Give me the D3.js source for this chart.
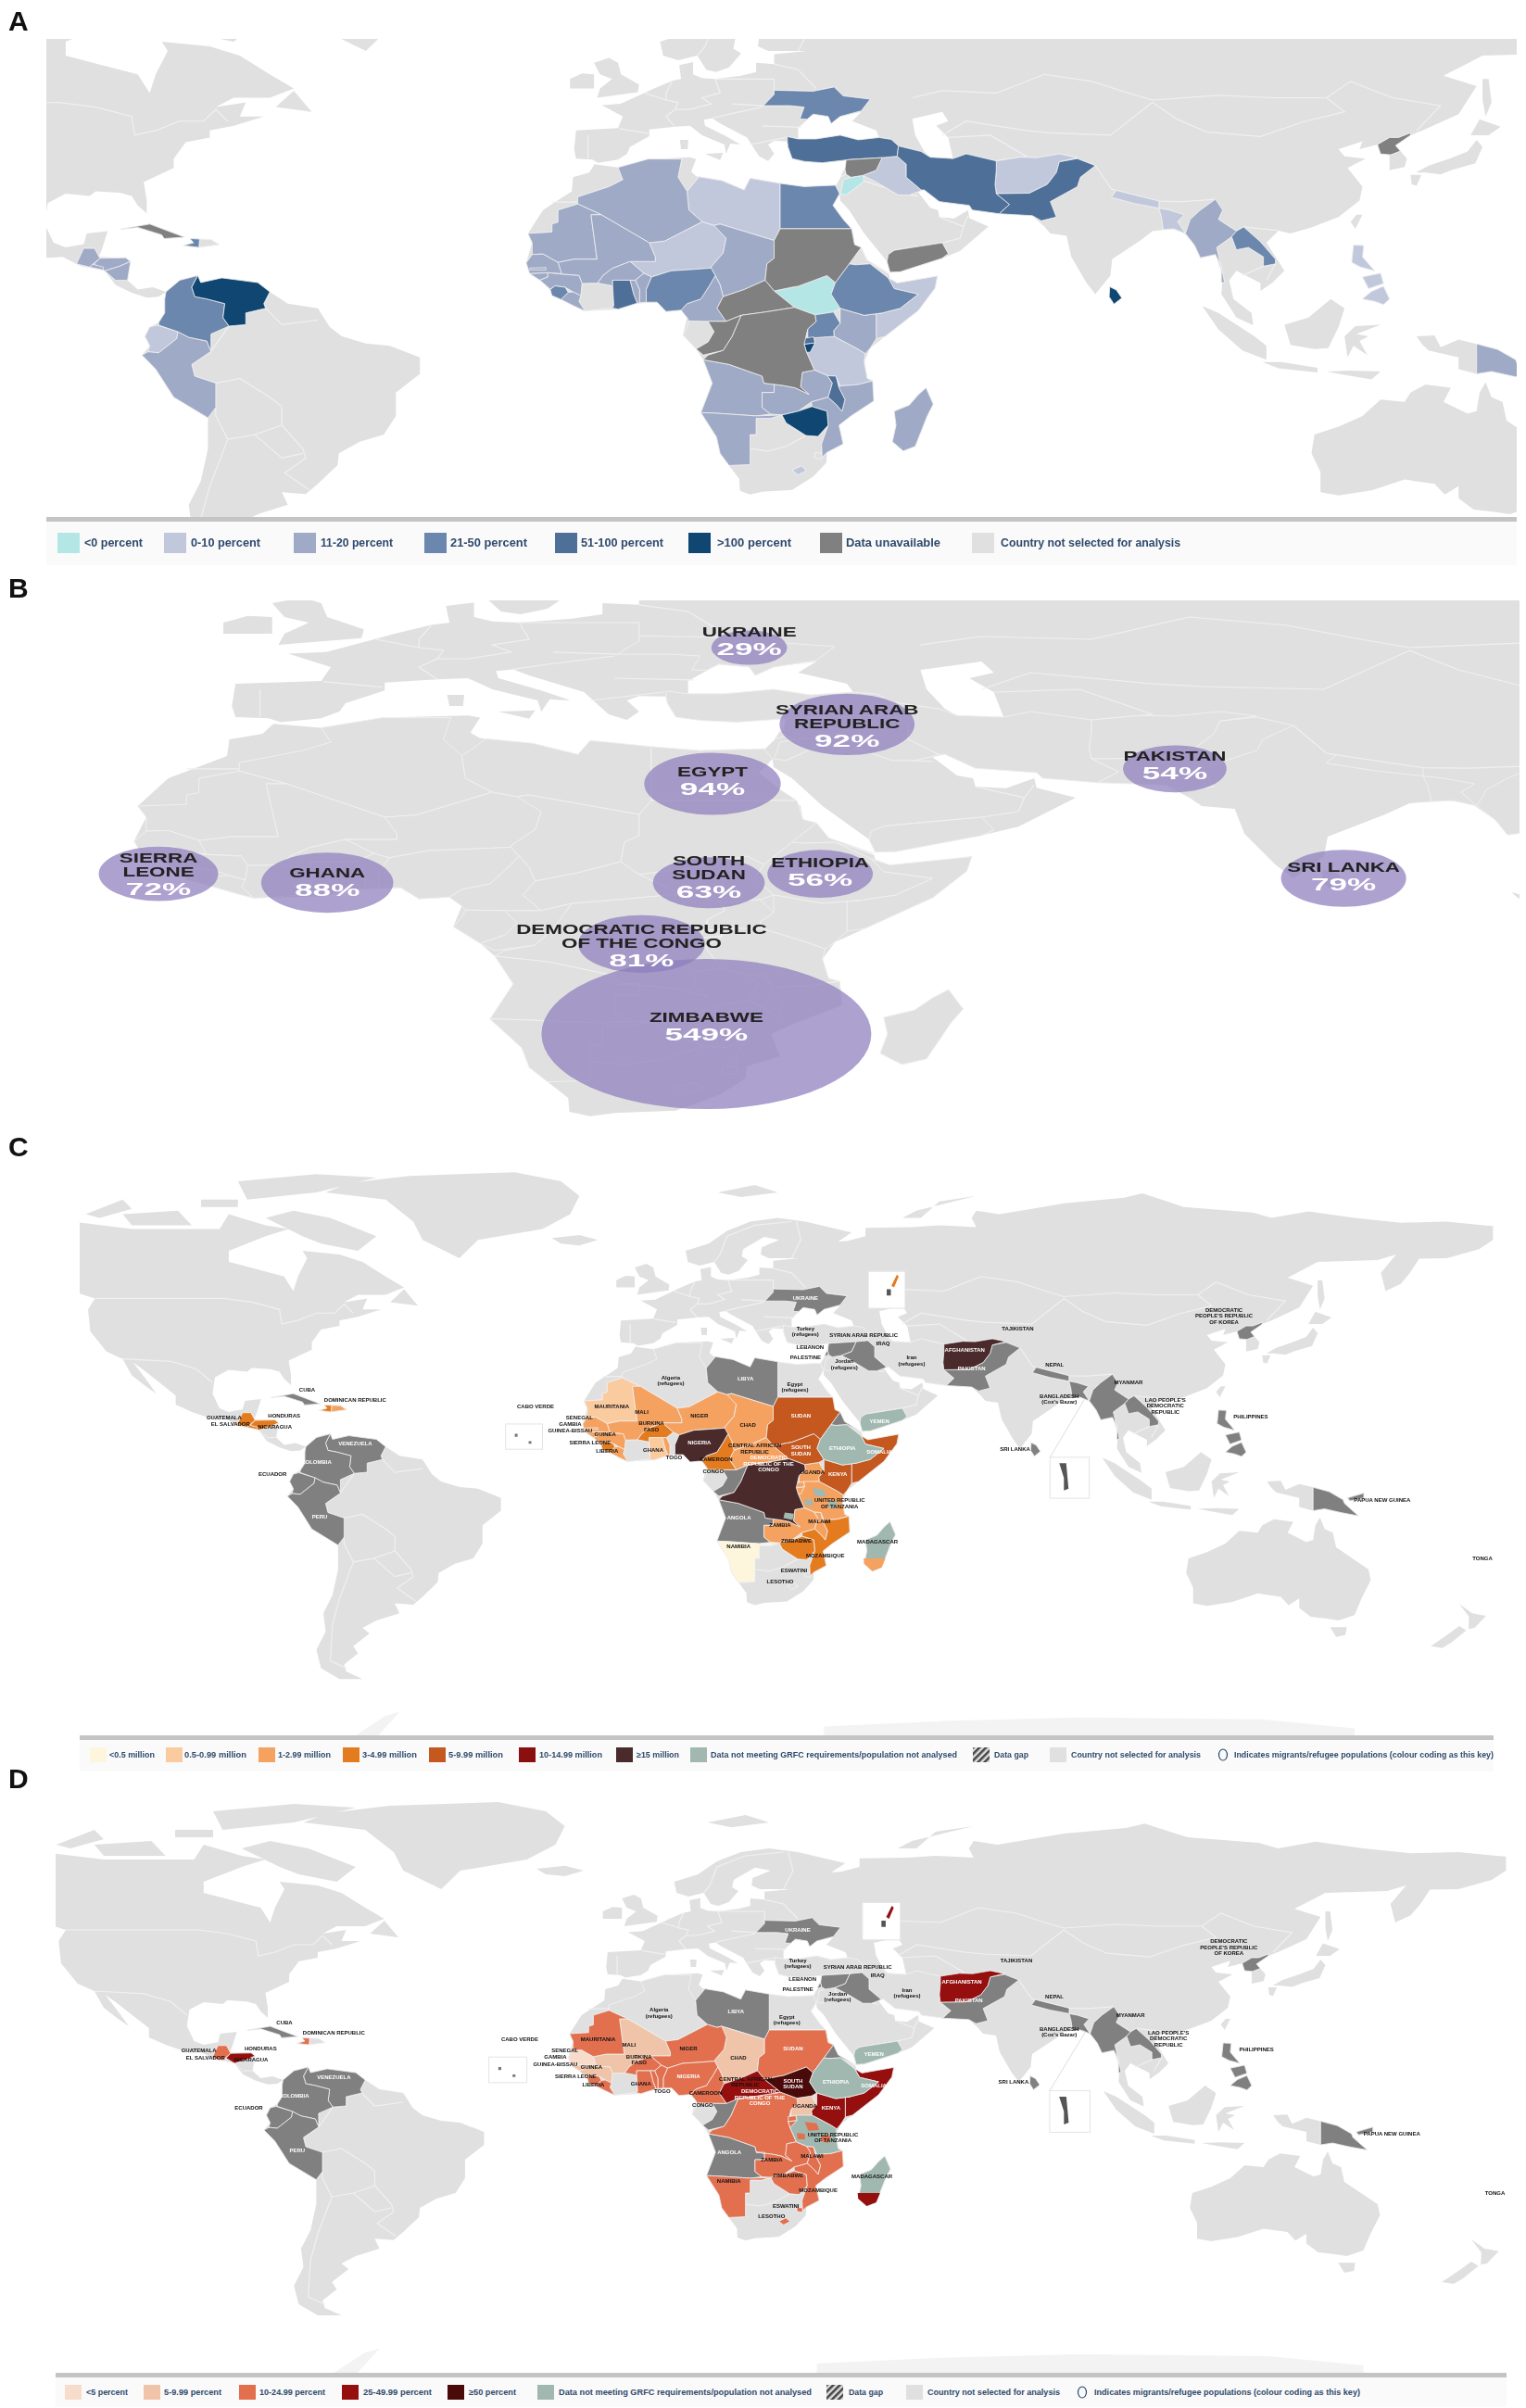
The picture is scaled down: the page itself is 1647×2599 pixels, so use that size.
<!DOCTYPE html>
<html>
<head>
<meta charset="utf-8">
<script src="https://cdn.jsdelivr.net/npm/d3@7"></script>
<style>
  html, body { margin: 0; padding: 0; background: #fff; }
  text { font-family: "Liberation Sans", Arial, sans-serif; }
</style>
</head>
<body>
<div id="chart"></div>
<script>
// ---- land outlines, [lon, lat] ----
const northAmerica = [[-168,66],[-162,70],[-156,71],[-141,70],[-128,70],[-115,68],[-108,68],[-96,68],[-94,72],[-86,69],[-81,68],[-86,66],[-94,62],[-94,59],[-88,57],[-82,55],[-80,51],[-79,55],[-77,60],[-78,62],[-70,61],[-65,59],[-60,55],[-56,52],[-60,50],[-66,50],[-69,48],[-64,49],[-65,46],[-61,46],[-66,44],[-70,43],[-70,41.5],[-74,40.5],[-76,37],[-76,35],[-81,32],[-80.5,28],[-80.5,25.3],[-82,27],[-83,29],[-85,29.7],[-89,30],[-90,29],[-94,29.5],[-97,27.5],[-97.5,23],[-96,19],[-94,18],[-91,18.7],[-90.5,21],[-87,21.5],[-88,17.5],[-88.5,16],[-84,15.8],[-83.3,14.8],[-83.7,11],[-82,9],[-79.5,9.5],[-77.3,8.5],[-78.5,7.5],[-80.5,7.3],[-83,8.3],[-85.7,10],[-87.5,13],[-91.5,14],[-94.5,16],[-97,15.8],[-102,18],[-105.5,20],[-105.5,22.5],[-109,26],[-112.5,29.5],[-114.7,31.5],[-112,27],[-109.7,23],[-112,25],[-115,28],[-117,32.5],[-120.5,34.5],[-124,40],[-124.5,46],[-123,49],[-128,51],[-132,55],[-136,58],[-142,60],[-148,60.5],[-152,59],[-158,56.5],[-164,54.8],[-158,58.5],[-165,61],[-165,64.5]];
const southAmerica = [[-77.3,8.5],[-75,11],[-72,12],[-71.5,10.5],[-68,11.5],[-62,10.5],[-60,8.5],[-57,6],[-52,5],[-50,1],[-48,-1],[-44,-2.5],[-40,-3],[-35,-5.5],[-35,-9],[-39,-13],[-39,-18],[-41,-22],[-45,-23.5],[-48.5,-26],[-48.7,-28.5],[-52,-32.5],[-54,-34.7],[-58,-34.3],[-57,-37],[-62,-39],[-65,-41],[-63.5,-42.5],[-67,-46],[-66,-48],[-69,-51],[-68.5,-53],[-65,-55],[-70,-55],[-74,-52],[-75,-47],[-73,-42],[-73.5,-37],[-71.5,-32],[-70.3,-25],[-70.3,-18.5],[-76,-14],[-79,-8],[-81.3,-5],[-80,-3],[-80.8,-1],[-80,1],[-78.5,2],[-77.5,4],[-77.5,7]];
const africa = [[-5.9,35.8],[-2,35.1],[3,36.9],[10,37.3],[11,36.9],[10.2,34.2],[11,33.2],[15.3,32.3],[19,30.3],[20,32.8],[25,31.7],[29,31],[32,31.2],[34.2,31.2],[32.6,29.7],[33.8,27],[35.5,24],[37.2,21],[37.4,18.6],[39.5,15.3],[43.2,12.2],[43.3,11.4],[44.5,10.4],[51.2,11.9],[50.8,9.3],[48,4.5],[42.5,-1],[40,-3.5],[39,-6.5],[39.5,-10],[40.6,-14.8],[36.8,-18],[34.8,-20],[35.5,-24],[32.8,-25.8],[32.7,-28],[30.5,-31],[27,-33.8],[22,-34.2],[20,-34.8],[18.3,-34],[18.2,-31.5],[16.5,-28.6],[15,-26],[14.4,-22.5],[11.8,-17.3],[13.7,-11],[12.2,-6],[11,-3.7],[8.8,-0.7],[9.5,3],[8.5,4.6],[6,4.3],[4.5,6.3],[1,6],[-2,4.8],[-7.5,4.4],[-9.5,5.6],[-13,8.5],[-15,11],[-17.3,14.7],[-16.3,19],[-17,21],[-14.5,26],[-11.5,28.5],[-9.7,30],[-9.5,33],[-6.8,34]];
const eurasia = [[-9,37],[-9.3,39],[-9,43],[-2,43.5],[-1.2,46],[-4.7,48.4],[-1.6,48.7],[1.5,50.5],[4,52],[7,53.6],[8.5,54],[8.2,57],[10.5,57.6],[10.5,55],[12,54.2],[14.2,54],[18.5,54.7],[21,55.5],[21,57.5],[24,57.2],[24,59.3],[29.5,60],[23,60],[21.3,61],[21.5,63],[25.3,65],[22,65.8],[17.5,62.5],[17.2,60.5],[18.5,59.5],[16.5,56.5],[14.3,55.5],[12.7,56],[11.2,59],[8,58],[5.5,59],[5,62],[10,64],[14,67.5],[19,70],[25,71],[31,70],[41,67],[38,64.5],[35,64.3],[40,64.7],[44,66],[44,68.3],[54,68.5],[60,69],[68,68.5],[67,71],[68,73],[73,72],[75,68],[73,72],[80,73.5],[87,75],[100,76.5],[104,77.7],[113,74],[128,72.5],[132,71],[140,72.8],[150,71],[160,69.7],[170,70],[178,69],[180,68.8],[180,65],[177,62.5],[170,60],[164,59.9],[162,56],[160,53],[156.7,51],[155.7,56],[159,61],[155,59.5],[142,59],[135.5,54.7],[141,52.5],[138,46.5],[132,43],[130,42],[127.5,39.8],[129.4,37],[129,35.2],[126.5,34.5],[126.5,37.5],[124.5,40],[121.5,39],[122,40.7],[118,39],[119,37.5],[122.5,37],[119.5,35],[122,31],[121.5,28],[118,24.5],[113.5,22.3],[110,21],[108,21.6],[106,19],[109,13],[107,10.5],[105,8.7],[105,10.4],[101,13],[99.8,11],[100.5,7],[103.5,4],[103.8,1.4],[101,3],[98.5,8],[98.7,12],[97.5,16.5],[95,15.8],[94,18.5],[92,21.5],[90,22],[87,21.5],[85,19.5],[80.3,15.5],[80,12],[77.5,8],[76,10.5],[73.5,16],[72.7,20.5],[70,21],[69,22.5],[67,24.8],[61.5,25.2],[57,26],[56.5,27],[51.5,27.8],[49,30.3],[48,29.8],[50,26.5],[51.3,26],[51.5,24.5],[54,24.2],[56.3,26],[56.5,24.3],[59.7,22.5],[55,17.3],[52,15.7],[45,12.8],[43.3,12.7],[42.8,15],[39,21],[36.5,26],[35,28],[34.9,29.5],[34.3,27.8],[33.2,28.5],[32.6,29.9],[32.3,31.2],[34.3,31.3],[35.8,34.5],[36,36.7],[32,36.1],[29,36.4],[27,37],[26.3,39.5],[26.2,40.7],[24,40.8],[23,40],[24,38],[23,36.5],[21.5,37.5],[19.5,41.5],[15,44.5],[13.7,45.6],[12.3,45.3],[12.5,44],[16,41.8],[18.4,40],[16.7,40.2],[16,38],[15.7,40],[12,42],[10,44],[7.5,43.8],[3.2,43.2],[3.2,41.8],[0,39.5],[-0.5,38],[-2,36.8],[-5.3,36.1],[-6.3,36.8]];
const australia = [[114,-22],[113.5,-26],[115,-30],[115,-34.3],[118,-35],[123.5,-33.9],[129,-31.6],[134,-32.5],[135.7,-34.8],[138,-33],[138,-35.6],[140.5,-38],[144,-38.5],[146.5,-39],[150,-37.5],[151.5,-33],[153.5,-28],[153,-25],[149.5,-22],[146,-19],[145.3,-15],[143.5,-14],[142.5,-10.8],[141.5,-13],[141,-17],[139.5,-17.5],[135.5,-15],[136.7,-12],[132.5,-11.3],[130,-13],[129,-15],[125,-14.5],[122,-18],[118,-20.3]];
const greenland = [[-73,78],[-60,76],[-54,70],[-52,65],[-44,60],[-40,65],[-26,68],[-20,72],[-18,77],[-22,81],[-32,83.5],[-55,82.5],[-68,80.5]];
const arcticIslands = [
  [[-80,73],[-72,71],[-62,66],[-66,62],[-74,64],[-78,66],[-86,71]],
  [[-117,72],[-105,73],[-102,69],[-115,69]],
  [[-90,76],[-75,78],[-62,82],[-75,83],[-92,81]],
  [[-125,72],[-117,76],[-115,73.5],[-122,71]],
  [[-100,76],[-92,76],[-92,74],[-100,74]],
  [[-24,65.5],[-18,66.3],[-14,65],[-18,63.5],[-22,64]],
  [[12,78],[20,80],[25,78],[17,76.7]],
  [[52,71],[55,73],[68,77],[60,75.5],[56,71]],
  [[-59,48],[-56,51.5],[-53,47]]
];
const otherIslands = [
  [[-5.5,50],[1.3,51.2],[1.5,52.8],[-1.5,55],[-2,57.5],[-3.5,58.5],[-6,57.5],[-5,55],[-3,54],[-5,52]],
  [[-10,52],[-6,52],[-6,55],[-8,55.2],[-10,54]],
  [[12.5,38],[15.5,38.2],[15,36.7]],
  [[8.3,41],[9.7,41],[9.6,39],[8.5,39]],
  [[130.9,34],[133,35.5],[136.5,37],[139.5,38.5],[141,41],[142,39.5],[140.8,36],[137,34.6],[135,33.6],[132.5,34]],
  [[130,33.5],[131.8,33.5],[131,31.2],[130.2,31.5]],
  [[140,42],[141.5,45.4],[145,43.8],[143,42]],
  [[142,54],[143,54],[143.5,49],[142.5,46],[142,49.5]],
  [[121,25],[122,25],[120.8,22],[120,23.5]],
  [[95.3,5.5],[98,4],[104,-1],[106,-3],[106,-6],[102,-4],[98,0.5]],
  [[105.3,-6.5],[108.5,-6.5],[114.5,-7.7],[114.5,-8.7],[108,-7.8]],
  [[109,1.5],[113,3],[116.7,7],[119,5],[118,1],[116.3,-3.5],[114,-3.7],[110,-2.8]],
  [[119.5,-5.5],[119,-1],[120.8,1.2],[125,1.5],[121,-0.5],[123,-1],[121.5,-2],[122.8,-5],[120.5,-3]],
  [[116,-8.5],[120,-8.3],[125,-8.5],[123.5,-10.2],[118,-9]],
  [[131,-1],[134,-0.8],[135,-3.3],[138,-1.7],[141,-2.6],[141,-9],[138,-8],[138,-5.5],[133,-4],[132,-2.8]],
  [[144.7,-40.8],[148.3,-40.8],[148,-43],[146,-43.5]],
  [[172.7,-34.5],[175.5,-37],[178.5,-37.7],[176,-41],[174.7,-41.3],[174.8,-38]],
  [[172.7,-40.5],[174.2,-41.7],[171,-45],[169,-46.5],[166.5,-46],[170,-43]]
];
const inlandSeas = [
  [[28,41.2],[31,41.2],[35,42],[38,41],[41.5,41.5],[41,43],[37,45],[38.5,47],[35,46],[33.5,44.5],[33,46],[30.5,46.5],[28,43.5]],
  [[47,45.5],[52,47],[53,45],[51,44],[53,41.5],[53.8,37],[50,37.3],[49,38.5],[47.5,42]]
];
const antarcticEdge = [[35,-68],[60,-66.5],[90,-65.5],[130,-66],[150,-68.5],[150,-74],[35,-74]];
const antarcticPeninsula = [[-60,-65],[-57,-64],[-62,-71],[-70,-74],[-66,-70]];

// ---- thin borders of countries that never get a class ----
const borderLines = [
  [[-123,49],[-95,49],[-89,48],[-83,46],[-82.5,42],[-79,43],[-75,45],[-71,45],[-69,47.5],[-67,45]],
  [[-141,70],[-141,60]],
  [[-117,32.5],[-106.5,31.8],[-101,29.7],[-97.5,26]],
  [[-60.7,5],[-64,4],[-64,1.5],[-66.8,1.2],[-69.8,-4.2],[-73,-7],[-72.5,-9.5],[-69,-11],[-65,-10],[-60,-14],[-58,-16],[-58,-20],[-54.5,-25],[-54,-27],[-57.5,-30.2],[-53.5,-33.7]],
  [[-69,-16.2],[-69,-18],[-67,-23],[-70,-33],[-71.5,-40],[-72,-50],[-68.5,-52]],
  [[-58,-20],[-62.5,-22],[-67,-23]],
  [[-62.5,-22],[-58,-27],[-54.5,-26]],
  [[-60,8.5],[-61,6],[-60.7,5],[-58,1.5],[-52,2.5]],
  [[47,50],[52,51.5],[61,51],[69,55],[77,53.5],[83,51],[87,49.5]],
  [[87,49.5],[98,50.5],[107,50],[116,50],[120,53.5],[127,50],[135,48.3],[131,43]],
  [[87,49],[91,45.5],[96,42.7],[105,41.7],[112,44.8],[119,47],[116,50]],
  [[52,42],[56,45],[61,44],[66,43],[70,42.5],[80,42],[87,49]],
  [[53,41.5],[60,42],[66,37.5],[61,36.5]],
  [[77.5,35.5],[80.2,30.5],[81,30.2],[88,27.9],[92,27.8],[97.5,28.3]],
  [[97.5,28.3],[98,24],[101,21.5],[102.2,22.4],[108,21.6]],
  [[102,12],[105.5,14],[107.5,14.5],[106,11]],
  [[36,29.2],[39,32.2],[46.5,29.2],[48,29]],
  [[44,17.4],[48.5,18.3],[52,19],[55,20],[55.5,22.5],[51.5,24.5]],
  [[55.5,22.5],[56.3,24.8]],
  [[-1.8,43.4],[3,42.4]],
  [[2.5,51],[6,49.5],[8,49],[7.5,47.5],[6,46],[7.5,43.8]],
  [[7,53.5],[6,51],[6,49.5]],
  [[14.2,54],[15,51],[12,50],[13.5,48.7],[10,47.5],[7.5,47.5]],
  [[14,54],[24,54],[24,51]],
  [[17,48.7],[22.2,48.3]],
  [[13.7,45.6],[16.5,46.5],[22,48]],
  [[22,44],[28.5,43.7]],
  [[20,40],[26,41.5]],
  [[-7,42],[-7,37]],
  [[11.2,59],[12.5,61],[14,66],[20,69],[28,70]],
  [[28,60],[30,65],[29,70]],
  [[24,57.2],[28,56],[31,52]],
  [[-13,27.7],[-8.7,27.7]],
  [[25.3,-17.8],[26,-19.5],[29.3,-22.2]],
  [[20,-25],[23,-25.5],[26,-24.5],[29.3,-22.2],[31.3,-22.4]]
];

// ---- country outlines ----
const Algeria = [[-8.7,27.3],[-8.7,28.8],[-3.5,31],[-1.2,32.5],[-2,35.1],[3,36.9],[8.6,36.9],[8,33],[9.5,30],[9.8,26],[12,23.5],[5.8,19.4],[3.2,19],[-4.8,25]];
const Libya = [[11.5,33.1],[15.3,32.3],[19,30.3],[20,32.8],[25,31.7],[25,22],[24,19.5],[15,23],[14,22.7],[12,23.5],[9.8,26],[9.5,30]];
const Egypt = [[25,31.7],[29,31],[32.3,31.2],[34.2,31.3],[34.9,29.5],[33.8,27],[35.5,24],[36.9,22],[25,22]];
const Mauritania = [[-17,21],[-13,21.3],[-13,23],[-12,23.4],[-12,26],[-8.7,27.3],[-4.8,25],[-6.5,25],[-5.5,15.5],[-9.3,15.5],[-12,14.8],[-14.5,16.6],[-16.3,16.5],[-16.3,19]];
const Mali = [[-4.8,25],[3.2,19],[4.2,16],[4.2,15],[0,15],[-2,14],[-3,13.5],[-4.5,12],[-5.4,10.4],[-8,10.3],[-8.5,12],[-11.4,12.3],[-12,14.8],[-9.3,15.5],[-5.5,15.5],[-6.5,25]];
const Senegal = [[-16.3,16.5],[-14.5,16.6],[-12,14.8],[-11.4,12.4],[-13.7,12.6],[-16.7,12.4],[-17.3,14.7]];
const Gambia = [[-16.7,13.6],[-14,13.7],[-14,13.2],[-16.7,13.2]];
const GuineaBissau = [[-16.7,12.4],[-13.7,12.6],[-13.7,11.7],[-15,11]];
const Guinea = [[-15,11],[-13.7,11.7],[-13.7,12.6],[-11.4,12.3],[-8.5,12],[-8,10.3],[-8.2,7.7],[-9.5,8.5],[-10.8,9.5],[-12.5,9.8],[-13.3,9.1]];
const SierraLeone = [[-13.3,9],[-12.5,9.8],[-10.8,9.5],[-10.3,8.4],[-11.5,6.9],[-13,7.7]];
const Liberia = [[-11.5,6.9],[-10.3,8.4],[-9.5,8.5],[-8.2,7.7],[-8.5,6.5],[-7.5,4.4],[-9.5,5.6]];
const CoteDIvoire = [[-7.5,4.4],[-8.5,6.5],[-8.2,7.7],[-8,10.3],[-5.4,10.4],[-2.9,9.8],[-2.7,5.5],[-3,5.1]];
const BurkinaFaso = [[-5.4,10.4],[-4.5,12],[-3,13.5],[-2,14],[0,15],[2.3,12.5],[0.9,11],[-2.9,11],[-2.9,9.8]];
const Ghana = [[-3,5.1],[-2.7,5.5],[-2.9,9.8],[-2.9,11],[0,11],[0.6,8],[1.2,6.1],[-2,4.8]];
const Togo = [[0,11],[0.9,11],[1.6,9],[1.6,6.2],[1.2,6.1],[0.6,8]];
const Benin = [[0.9,11],[2.3,12.5],[3.6,11.7],[2.7,9],[2.7,6.3],[1.6,6.2],[1.6,9]];
const Niger = [[3.2,19],[5.8,19.4],[12,23.5],[14,22.7],[15,23],[16,20],[15.5,16.8],[13.6,14],[13.5,13.6],[10.5,13.3],[6.8,13],[3.6,11.7],[2.3,12.5],[0,15],[4.2,15],[4.2,16]];
const Nigeria = [[2.7,6.3],[2.7,9],[3.6,11.7],[6.8,13],[10.5,13.3],[13.5,13.6],[14.2,12],[13.2,9.8],[11.8,7],[9.5,6],[8.5,4.6],[6,4.3],[4.5,6.3]];
const Chad = [[14,22.7],[15,23],[24,19.5],[24,15.7],[22.8,14.5],[22.5,11],[19,9],[15.5,7.5],[15,10],[14.2,12],[13.5,13.6],[13.6,14],[15.5,16.8],[16,20]];
const Cameroon = [[8.5,4.6],[9.5,6],[11.8,7],[13.2,9.8],[14.2,12],[15,10],[15.5,7.5],[14.5,5],[16,2.2],[13,2.2],[9.8,2.3],[9.5,3]];
const CentralAfricanRepublic = [[14.5,5],[15.5,7.5],[19,9],[22.5,11],[24,8.7],[27.4,5.2],[22.5,4.2],[18.5,3.5],[16,2.2]];
const Sudan = [[24,19.5],[25,22],[36.9,22],[37.4,18.6],[38.5,18],[36.5,14.5],[34.2,10.5],[32.8,12],[28,9.7],[27,9.5],[24,8.7],[22.5,11],[22.8,14.5],[24,15.7]];
const SouthSudan = [[24,8.7],[27,9.5],[28,9.7],[32.8,12],[34.2,10.5],[33.5,8],[35,5],[33.9,4.2],[30.8,3.6],[27.4,5.2]];
const Eritrea = [[36.5,14.5],[38.5,18],[39.5,15.3],[43.2,12.5],[40,14.5],[37.5,14.3]];
const Ethiopia = [[36.5,14.5],[37.5,14.3],[40,14.5],[43,11.5],[44,9.2],[48,8],[45,5],[42,4],[39,3.5],[35,5],[33.5,8],[34.2,10.5]];
const Somalia = [[43,11.5],[44.5,10.4],[51.2,11.9],[50.8,9.3],[48,4.5],[42.5,-1],[41,-1.5],[41,3.9],[42,4],[45,5],[48,8],[44,9.2]];
const Kenya = [[35,5],[39,3.5],[42,4],[41,3.9],[41,-1.5],[40,-3.5],[39.2,-4.7],[37.7,-3.5],[34,-1],[33.9,0.2],[35,1.8]];
const Uganda = [[30.8,3.6],[33.9,4.2],[35,1.8],[33.9,0.2],[34,-1],[29.6,-1.4],[29.6,0.6],[31,2.2]];
const Rwanda = [[29,-1.4],[30.6,-1.1],[30.8,-2.4],[29,-2.7]];
const Burundi = [[29,-2.7],[30.8,-2.4],[30,-4.4],[29.4,-4.4]];
const Tanzania = [[30.6,-1],[34,-1],[37.7,-3.5],[39.2,-4.7],[39,-6.5],[39.5,-10],[40.4,-10.5],[38,-11.3],[35,-11.6],[34.3,-9.5],[32.9,-9.4],[30.7,-8.2],[29.4,-4.4],[30.8,-2.4]];
const DRCongo = [[18.5,3.5],[22.5,4.2],[27.4,5.2],[30.8,3.6],[31,2.2],[29.6,0.6],[29,-2.7],[29.4,-4.4],[30.7,-8.2],[28.7,-8.7],[28.4,-11.8],[29.8,-13.4],[27.5,-12],[25.5,-11.5],[22.3,-11],[22,-9.5],[16.5,-7],[12.2,-6],[13,-5],[15.5,-4],[17,-1],[18,2]];
const Congo = [[11,-3.7],[12.2,-5],[15.5,-4],[17,-1],[18,2],[18.5,3.5],[16,2.2],[13,2.2],[14,0],[13,-2.2]];
const Gabon = [[9.8,2.3],[13,2.2],[14,0],[13,-2.2],[11,-3.7],[8.8,-0.7],[9.5,1]];
const Angola = [[12.2,-6],[16.5,-7],[22,-9.5],[22.3,-11],[24,-11],[24,-13],[22,-13],[22,-16.2],[23.4,-17.6],[21,-18],[14,-17.4],[11.8,-17.3],[13.7,-11]];
const Zambia = [[22.3,-11],[25.5,-11.5],[27.5,-12],[29.8,-13.4],[28.4,-11.8],[28.7,-8.7],[30.7,-8.2],[32.9,-9.4],[33.7,-11],[33,-14],[30.2,-15],[28,-17],[25.3,-17.8],[23.4,-17.6],[22,-16.2],[22,-13],[24,-13],[24,-11]];
const Malawi = [[32.9,-9.4],[34.3,-9.5],[34.8,-12],[35.8,-14.5],[35.3,-17],[34.3,-15.5],[33,-14],[33.7,-11]];
const Mozambique = [[30.2,-15],[33,-14],[34.3,-15.5],[35.3,-17],[35.8,-14.5],[34.8,-12],[35,-11.6],[38,-11.3],[40.4,-10.5],[40.6,-14.8],[36.8,-18],[34.8,-20],[35.5,-24],[32.8,-25.8],[32,-26.8],[31.9,-24],[33,-20],[32.8,-17],[30.3,-16]];
const Zimbabwe = [[25.3,-17.8],[28,-17],[30.3,-16],[32.8,-17],[33,-20],[31.3,-22.4],[29.3,-22.2],[26,-19.5]];
const Namibia = [[11.8,-17.3],[14,-17.4],[21,-18],[25.3,-17.8],[23.4,-18.5],[21,-18.5],[21,-22],[20,-22],[20,-28.4],[16.5,-28.6],[15,-26],[14.4,-22.5]];
const Lesotho = [[27,-29.6],[28.5,-28.7],[29.4,-29.7],[28,-30.6]];
const Eswatini = [[30.8,-25.8],[32,-26],[32,-27.2],[30.8,-27]];
const Madagascar = [[49.3,-12],[50.5,-15.5],[49.5,-18],[47.5,-24.5],[45.5,-25.5],[43.7,-23.5],[44.3,-20],[44,-17],[46.5,-15.7],[48,-13.5]];
const MadagascarSouth = [[48.3,-22],[47.5,-24.5],[45.5,-25.5],[43.7,-23.5],[43.6,-22]];
const patchNorthTanzania = [[32.5,-2.8],[35,-3.2],[35.5,-5],[33.2,-5.2]];
const patchEastTanzania = [[36,-6.3],[38,-6.5],[37.5,-8.5],[35.8,-8]];
const patchWestTanzania = [[30.8,-5.8],[32.5,-6],[32.5,-7.5],[31,-7.5]];
const patchKatanga = [[26.5,-9.5],[28.5,-9.8],[28.2,-11.5],[26.2,-11]];
const Turkey = [[26.2,40.7],[26.3,39.5],[27,37],[29,36.4],[32,36.1],[36,36.7],[36.7,36.8],[42,37.2],[44.5,37.5],[44.7,39.7],[43.5,41.1],[41.5,41.5],[38,41],[35,42],[31,41.2],[28,41.2],[26.2,41.7]];
const Syria = [[35.8,34.7],[36,36.7],[36.7,36.8],[42,37.2],[41,34.5],[38.8,33.4],[36.8,33],[36,33.6]];
const Iraq = [[42,37.2],[44.5,37.5],[46,35.8],[46,33],[48.5,30.3],[48,29.9],[46.5,29.2],[44.7,29.2],[41,32],[38.8,33.4],[41,34.5]];
const Iran = [[44.7,39.7],[44.5,37.5],[46,35.8],[46,33],[48.5,30.3],[49,30.3],[51.5,27.8],[56.5,27],[57,26],[61.5,25.2],[63.2,27.2],[61,29.5],[60.8,31.5],[61,34.5],[61,36.5],[56,38],[53.8,37],[50,37.3],[48.5,38.5]];
const Afghanistan = [[61,36.5],[61,34.5],[60.8,31.5],[61,29.5],[66.5,29.6],[69.5,31.5],[71,34],[71.5,36.3],[74.5,37.2],[71.5,38],[67.8,37.2],[65,37.3]];
const Pakistan = [[61.5,25.2],[67,24.8],[68.5,23.7],[71,24.5],[70,27.8],[74.5,31],[75,33],[77.5,35.5],[74.5,37],[71.5,36.3],[71,34],[69.5,31.5],[66.5,29.6],[61,29.5],[63.2,27.2]];
const Jordan = [[35,29.5],[36,29.2],[39,32.2],[38.8,33.4],[36.8,33],[35.5,32.5],[35.3,31]];
const Lebanon = [[35.1,33.1],[36,33.6],[35.8,34.7],[35.5,34.4]];
const Yemen = [[43.3,12.7],[45,12.8],[52,15.7],[53,16.7],[52,19],[48.5,18.3],[44,17.4],[43,16.5],[42.8,15]];
const Ukraine = [[22.2,48.3],[24,50.7],[24,51.6],[30.5,51.4],[34,52.3],[35.5,50.4],[40,49.7],[38.5,47.2],[35,46],[33.5,44.5],[33,46],[30.5,46.5],[29.5,45.4],[28.3,45.5],[29,48],[26.6,48.3]];
const Nepal = [[80.2,28.8],[81,30.2],[88.1,27.9],[88.1,26.4],[84,27.4],[80.5,28.6]];
const Bangladesh = [[88.1,26.4],[89.8,26],[92.3,25],[91.2,23.5],[92.5,21],[90.5,22],[88.8,21.8],[88.5,24.5]];
const Myanmar = [[92.5,21],[93.3,24],[95,26],[97.5,28.3],[98.7,26],[98,24],[101,21.5],[100.2,20.3],[97.7,18],[98.8,12],[99,10.5],[98.5,10.5],[98.5,14],[97.5,16.5],[95,15.8],[94,18.5]];
const Laos = [[100.2,20.3],[101,21.5],[102.2,22.4],[105,19.2],[107.5,15.5],[107.5,14.5],[105.5,14],[105.5,16],[103,18],[101,17.5]];
const SriLanka = [[79.9,9.6],[81,8.9],[81.9,7.2],[80.6,5.9],[79.8,7.5]];
const NorthKorea = [[124.5,40],[126.5,41.5],[128,41.5],[130,42.5],[130,42],[127.5,39.8],[128.3,38.6],[126.7,37.8],[125,38]];
const Luzon = [[120.5,18.5],[122.2,18.4],[122,16],[124,13],[121.7,13.8],[120.2,14.8]];
const Visayas = [[122,11.7],[125,12.5],[125.5,10.3],[123,9.2]];
const Mindanao = [[122,7],[123.5,8.6],[125.5,9.7],[126.5,7],[125.5,5.8],[124,6.5]];
const PapuaNewGuinea = [[141,-2.6],[144.5,-3.8],[147.5,-6],[147.8,-7],[150.8,-10.4],[147,-9.5],[143.5,-8.5],[141,-9]];
const NewBritain = [[148.5,-5.5],[152,-4.2],[152,-5.5],[149,-6.3]];
const Venezuela = [[-72,12],[-71.5,10.5],[-68,11.5],[-62,10.5],[-60,8.5],[-61,6],[-60.7,5],[-64,4],[-64,1.5],[-66.8,1.2],[-67.8,3],[-67.5,6],[-70.5,7],[-72.5,7.5],[-73,9.5]];
const Colombia = [[-77.3,8.5],[-75,11],[-72,12],[-73,9.5],[-72.5,7.5],[-70.5,7],[-67.5,6],[-67.8,3],[-66.8,1.2],[-69.8,-0.5],[-69.8,-4.2],[-70.5,-2],[-73.5,-1.2],[-75.3,0],[-78.5,1.4],[-78.5,2],[-77.5,4],[-77.5,7]];
const Ecuador = [[-78.8,1.4],[-75.3,0],[-75.5,-1.5],[-78.5,-4.5],[-80.3,-4.3],[-80,-3],[-80.8,-1],[-80,1]];
const Peru = [[-81.3,-5],[-80.3,-4.3],[-78.5,-4.5],[-75.5,-1.5],[-75.3,0],[-73.5,-1.2],[-70.5,-2],[-69.8,-4.2],[-73,-7],[-72.5,-9.5],[-69,-11],[-69,-16.2],[-70.3,-18.4],[-76,-14],[-79,-8]];
const Cuba = [[-84.9,21.9],[-80,23],[-74.2,20.2],[-77.6,19.9],[-78,20.7],[-82,22.3]];
const Haiti = [[-74.4,18.4],[-71.8,18],[-71.7,19.8],[-73.3,19.9],[-72.7,19]];
const DominicanRepublic = [[-71.7,19.8],[-71.8,18],[-68.4,18.6],[-69.8,19.7]];
const Guatemala = [[-92.2,14.5],[-91,17.8],[-89.2,17.8],[-88.3,15.7],[-89.5,14.4],[-90,13.8]];
const Honduras = [[-88.3,15.7],[-84,15.8],[-83.2,15],[-85,14],[-87.5,13],[-89.3,14.4]];
const ElSalvador = [[-90,13.8],[-89.5,14.4],[-87.7,13.8],[-87.8,13.2]];
const Nicaragua = [[-87.5,13],[-85,14],[-83.2,15],[-83.7,11],[-85.7,11]];

// outline table built from the arrays above; some entries have several rings
const countryRings = {
  Algeria:[Algeria],Libya:[Libya],Egypt:[Egypt],Mauritania:[Mauritania],Mali:[Mali],Senegal:[Senegal],Gambia:[Gambia],
  GuineaBissau:[GuineaBissau],Guinea:[Guinea],SierraLeone:[SierraLeone],Liberia:[Liberia],CoteDIvoire:[CoteDIvoire],
  BurkinaFaso:[BurkinaFaso],Ghana:[Ghana],Togo:[Togo],Benin:[Benin],Niger:[Niger],Nigeria:[Nigeria],Chad:[Chad],
  Cameroon:[Cameroon],CentralAfricanRepublic:[CentralAfricanRepublic],Sudan:[Sudan],SouthSudan:[SouthSudan],Eritrea:[Eritrea],
  Ethiopia:[Ethiopia],Somalia:[Somalia],Kenya:[Kenya],Uganda:[Uganda],Rwanda:[Rwanda],Burundi:[Burundi],Tanzania:[Tanzania],
  DRCongo:[DRCongo],Congo:[Congo],Gabon:[Gabon],Angola:[Angola],Zambia:[Zambia],Malawi:[Malawi],Mozambique:[Mozambique],
  Zimbabwe:[Zimbabwe],Namibia:[Namibia],Lesotho:[Lesotho],Eswatini:[Eswatini],Madagascar:[Madagascar],
  Turkey:[Turkey],Syria:[Syria],Iraq:[Iraq],Iran:[Iran],Afghanistan:[Afghanistan],Pakistan:[Pakistan],Jordan:[Jordan],Lebanon:[Lebanon],
  Yemen:[Yemen],Ukraine:[Ukraine],Nepal:[Nepal],Bangladesh:[Bangladesh],Myanmar:[Myanmar],Laos:[Laos],SriLanka:[SriLanka],
  NorthKorea:[NorthKorea],Philippines:[Luzon,Visayas,Mindanao],PapuaNewGuinea:[PapuaNewGuinea,NewBritain],Venezuela:[Venezuela],
  Colombia:[Colombia],Ecuador:[Ecuador],Peru:[Peru],Cuba:[Cuba],Haiti:[Haiti],DominicanRepublic:[DominicanRepublic],
  Guatemala:[Guatemala],Honduras:[Honduras],ElSalvador:[ElSalvador],Nicaragua:[Nicaragua]
};
// sub-national areas, coloured on top of the country they sit in
const subNational = { MadagascarSouth:[MadagascarSouth], Patches:[patchNorthTanzania,patchEastTanzania,patchWestTanzania,patchKatanga] };

// ---- panel A classes ----
const legendA = ["<0 percent","0-10 percent","11-20 percent","21-50 percent","51-100 percent",">100 percent","Data unavailable","Country not selected for analysis"];
const coloursA = ["#b5e6e6","#c2c8dc","#9faac6","#6c87ad","#4d6f98","#0f4672","#808080","#e0e0e0"];
const classesA = [
  ["SouthSudan","Jordan"],
  ["Afghanistan","Libya","Niger","Tanzania","Somalia","Ecuador","Iraq","Nepal","Bangladesh","Philippines","Lesotho"],
  ["Algeria","Mauritania","Mali","BurkinaFaso","Senegal","Gambia","GuineaBissau","Guinea","Liberia","Chad","Cameroon","Kenya","Angola","Zambia","Mozambique","Namibia","Madagascar","Peru","Guatemala","Honduras","ElSalvador","Nicaragua","Myanmar","PapuaNewGuinea","Togo","Benin"],
  ["Ukraine","Egypt","Nigeria","Ethiopia","Colombia","Uganda","Haiti","Laos","SierraLeone"],
  ["Turkey","Iran","Pakistan","Ghana","Malawi","Rwanda"],
  ["Venezuela","Zimbabwe","SriLanka","Burundi"],
  ["Sudan","CentralAfricanRepublic","DRCongo","Congo","Yemen","Syria","Cuba","NorthKorea"]
];

// ---- panel B bubbles ----
const bubbleNames = [["UKRAINE"],["SYRIAN ARAB","REPUBLIC"],["EGYPT"],["PAKISTAN"],["SIERRA","LEONE"],["GHANA"],["SOUTH","SUDAN"],["ETHIOPIA"],["SRI LANKA"],["DEMOCRATIC REPUBLIC","OF THE CONGO"],["ZIMBABWE"]];
const bubbleValues = [29,92,94,54,72,88,63,56,79,81,549];
const bubbleLon = [33,41,30,67.8,-15.3,-1.5,29.7,38.8,81.6,24.2,29.5];
const bubbleLat = [49.5,35.7,25,27.7,8.8,7.2,7.2,8.8,8,-3.8,-20];
const bubbleValueDrop = [1,17,5,4,16,7,9,6,6,17,0];

// ---- panel C classes ----
const legendC = ["<0.5 million","0.5-0.99 million","1-2.99 million","3-4.99 million","5-9.99 million","10-14.99 million","\u226515 million","Data not meeting GRFC requirements/population not analysed","Data gap","Country not selected for analysis","Indicates migrants/refugee populations (colour coding as this key)"];
const coloursC = ["#fdf5dc","#fbcba0","#f5a261","#e57b1f","#c4581f","#8a0f0f","#4a2a2a","#a0b8b0"];
const classesC = [
  ["Namibia"],
  ["Mauritania","Ghana"],
  ["Mali","Niger","Chad","CentralAfricanRepublic","Uganda","Tanzania","Zambia","Malawi","Guinea","Liberia","Senegal","Gambia","GuineaBissau","Burundi","Rwanda","Togo","DominicanRepublic"],
  ["BurkinaFaso","Cameroon","Mozambique","Zimbabwe","Honduras","Guatemala","ElSalvador","Haiti","SierraLeone"],
  ["Sudan","SouthSudan","Somalia","Kenya"],
  [],
  ["Nigeria","DRCongo","Afghanistan"],
  ["Ethiopia","Yemen","Madagascar"]
];

// ---- panel D classes ----
const legendD = ["<5 percent","5-9.99 percent","10-24.99 percent","25-49.99 percent","\u226550 percent","Data not meeting GRFC requirements/population not analysed","Data gap","Country not selected for analysis","Indicates migrants/refugee populations (colour coding as this key)"];
const coloursD = ["#f7dccb","#efc4a8","#e2704f","#950f0f","#4a0a0a","#a0b8b0"];
const classesD = [
  ["Senegal"],
  ["Mali","Chad","Uganda","Guinea","GuineaBissau"],
  ["Mauritania","Niger","Sudan","Nigeria","Cameroon","DRCongo","Zambia","Malawi","Zimbabwe","Mozambique","Namibia","BurkinaFaso","Lesotho","Guatemala","Haiti","SierraLeone","Liberia","Ghana","Togo","Benin","Eswatini","Burundi","Rwanda"],
  ["CentralAfricanRepublic","Somalia","Kenya","Afghanistan","Honduras"],
  ["SouthSudan"],
  ["Ethiopia","Yemen","Madagascar","Tanzania"]
];
const dataUnavailable = ["Libya","Angola","Congo","Ukraine","Syria","Iraq","Pakistan","Nepal","Bangladesh","Myanmar","Laos","Philippines","PapuaNewGuinea","NorthKorea","SriLanka","Venezuela","Colombia","Ecuador","Peru","Cuba","Eritrea","Lebanon"];

// ---- country labels shared by C and D ----
const labelNames = ["UKRAINE","LIBYA","MAURITANIA","MALI","NIGER","CHAD","SUDAN","SOUTH|SUDAN","ETHIOPIA","YEMEN","SOMALIA","KENYA","NIGERIA","CAMEROON","CENTRAL AFRICAN|REPUBLIC","DEMOCRATIC|REPUBLIC OF THE|CONGO","ANGOLA","NAMIBIA","ZAMBIA","MALAWI","ZIMBABWE","MOZAMBIQUE","UNITED REPUBLIC|OF TANZANIA","MADAGASCAR","ESWATINI","LESOTHO","UGANDA","BURKINA|FASO","GHANA","TOGO","GUINEA","SIERRA LEONE","LIBERIA","SENEGAL","GAMBIA","GUINEA-BISSAU","CABO VERDE","CONGO","Algeria|(refugees)","Egypt|(refugees)","Turkey|(refugees)","SYRIAN ARAB REPUBLIC","IRAQ","LEBANON","PALESTINE","Jordan|(refugees)","Iran|(refugees)","AFGHANISTAN","TAJIKISTAN","PAKISTAN","NEPAL","BANGLADESH|(Cox's Bazar)","MYANMAR","LAO PEOPLE'S|DEMOCRATIC|REPUBLIC","PHILIPPINES","PAPUA NEW GUINEA","DEMOCRATIC|PEOPLE'S REPUBLIC|OF KOREA","SRI LANKA","TONGA","COLOMBIA","ECUADOR","PERU","VENEZUELA","GUATEMALA","EL SALVADOR","HONDURAS","NICARAGUA","DOMINICAN REPUBLIC","CUBA"];
const labelLon = [31,18,-11,-4.5,8,18.5,30,30,39,47,47,38,8,11.6,20,23,16.6,16.5,25.5,34,29,35.3,38.4,46.6,28.5,25.5,32.5,-2.4,-2,2.5,-12.4,-15.7,-12,-18,-20,-20,-27.5,11,1.8,28.7,31,43.6,47.8,32,31,39.4,54,65.5,77,67,85,86,101,109,127.5,156,121.7,76.4,177.7,-75,-84.5,-74.3,-66.6,-95,-93.6,-82,-84,-66.6,-77];
const labelLat = [49,27,19.5,18,17,14.5,17,7.5,8,15.5,7,1,9.5,5,8,3.8,-11,-18.7,-13,-12,-17.3,-21.3,-7,-17.5,-25.4,-28.3,1.5,14,7.6,5.5,12,9.6,7.3,16.4,14.7,12.8,19.5,1.8,26.6,24.8,40,39,36.7,35.7,33,31,32,35,40.7,30,31,21.5,26,19.7,16.7,-6,44.3,7.9,-22,4.3,1,-10.6,9.3,16.5,14.6,17,14,21.3,24];
const whiteLabels = ["UKRAINE","LIBYA","SUDAN","SOUTH|SUDAN","ETHIOPIA","YEMEN","SOMALIA","KENYA","NIGERIA","DEMOCRATIC|REPUBLIC OF THE|CONGO","ANGOLA","AFGHANISTAN","PAKISTAN","COLOMBIA","PERU","VENEZUELA"];

const landRings = [northAmerica, southAmerica, africa, eurasia, australia, greenland].concat(arcticIslands, otherIslands);

const width = 1647, height = 2599;
const svg = d3.select("#chart").append("svg")
  .attr("width", width).attr("height", height)
  .style("display", "block")
  .style("filter", "blur(0.7px)");   // the reference is a soft, upscaled raster

const landFill = "#e0e0e0", borderStroke = "#f0f0f0", gapFill = "#808080", navy = "#2f4a6d";

// hatch for the "Data gap" key
const hatch = svg.append("defs").append("pattern")
  .attr("id", "hatch").attr("width", 5).attr("height", 5)
  .attr("patternUnits", "userSpaceOnUse").attr("patternTransform", "rotate(45)");
hatch.append("rect").attr("width", 5).attr("height", 5).attr("fill", "#ddd");
hatch.append("rect").attr("width", 2.5).attr("height", 5).attr("fill", "#444");

function closed(ring) { return ring.concat([ring[0]]); }

function multi(rings) {
  return { type: "MultiPolygon", coordinates: rings.map(r => [closed(r)]) };
}

// every panel is a plain lon/lat stretch, fitted on landmarks of the reference
function makePanel(id, box, lon0, kx, lat0, ky) {
  const x = d3.scaleLinear().domain([0, 100]).range([lon0, lon0 + 100 * kx]);
  const y = d3.scaleLinear().domain([0, 100]).range([lat0, lat0 - 100 * ky]);
  const path = d3.geoPath(d3.geoTransform({
    point(lon, lat) { this.stream.point(x(lon), y(lat)); }
  }));
  svg.select("defs").append("clipPath").attr("id", "clip" + id)
    .append("rect").attr("x", box[0]).attr("y", box[1])
    .attr("width", box[2] - box[0]).attr("height", box[3] - box[1]);
  const g = svg.append("g").attr("clip-path", "url(#clip" + id + ")");
  g.append("path").datum(multi(landRings)).attr("d", path).attr("fill", landFill);
  g.append("path").datum(multi(inlandSeas)).attr("d", path).attr("fill", "#fff");
  g.append("path").datum({ type: "MultiLineString", coordinates: borderLines })
    .attr("d", path).attr("fill", "none").attr("stroke", borderStroke).attr("stroke-width", 1.2);
  g.selectAll("path.country").data(Object.keys(countryRings)).enter().append("path")
    .attr("class", "country").attr("d", d => path(multi(countryRings[d])))
    .attr("fill", landFill).attr("stroke", borderStroke).attr("stroke-width", 1);
  return { g, x, y, path };
}

function fillClass(p, names, colour) {
  p.g.selectAll(null).data(names).enter().append("path")
    .attr("d", d => p.path(multi(countryRings[d])))
    .attr("fill", colour).attr("stroke", borderStroke).attr("stroke-width", 0.8);
}

function fillArea(p, name, colour) {
  p.g.append("path").attr("d", p.path(multi(subNational[name]))).attr("fill", colour);
}

function legendBand(x0, x1, y0, y1) {
  svg.append("rect").attr("x", x0).attr("y", y0).attr("width", x1 - x0).attr("height", y1 - y0).attr("fill", "#fafafa");
  svg.append("rect").attr("x", x0).attr("y", y0).attr("width", x1 - x0).attr("height", 5).attr("fill", "#c4c4c4");
}

function drawLegend(items, colours, swatchX, textX, y, swatchW, swatchH, fontSize, textWidths) {
  items.forEach((name, i) => {
    const c = colours[i];
    if (c === "circle") {
      svg.append("ellipse").attr("cx", swatchX[i]).attr("cy", y).attr("rx", 4.5).attr("ry", 6)
        .attr("fill", "none").attr("stroke", navy).attr("stroke-width", 1.2);
    } else {
      svg.append("rect").attr("x", swatchX[i]).attr("y", y - swatchH / 2)
        .attr("width", swatchW).attr("height", swatchH).attr("fill", c);
    }
    svg.append("text").attr("x", textX[i]).attr("y", y)
      .attr("dy", "0.35em").attr("font-size", fontSize).attr("font-weight", 700)
      .attr("fill", navy).attr("textLength", textWidths[i]).attr("lengthAdjust", "spacingAndGlyphs")
      .text(name);
  });
}

function panelLetter(letter, y) {
  svg.append("text").attr("x", 9).attr("y", y).attr("font-size", 30).attr("font-weight", 700)
    .attr("fill", "#111").text(letter);
}

function countryLabels(p) {
  labelNames.forEach((name, i) => {
    const lines = name.split("|");
    const t = p.g.append("text").attr("text-anchor", "middle")
      .attr("font-size", 6).attr("font-weight", 700)
      .attr("fill", whiteLabels.includes(name) ? "#fff" : "#111");
    lines.forEach((line, j) => {
      t.append("tspan").attr("x", p.x(labelLon[i]))
        .attr("y", p.y(labelLat[i]) + (j - (lines.length - 1) / 2) * 6.5 + 2)
        .text(line);
    });
  });
}

function insetBoxes(p, colourA, colourB) {
  const boxes = [[44.6, 56.4, 52.6, 46.3], [-34, 14.7, -26, 7.8], [84, 5.6, 92.5, -5.6]];
  boxes.forEach(b => {
    p.g.append("rect").attr("x", p.x(b[0])).attr("y", p.y(b[1]))
      .attr("width", p.x(b[2]) - p.x(b[0])).attr("height", p.y(b[3]) - p.y(b[1]))
      .attr("fill", "#fff").attr("stroke", "#e4e4e4");
  });
  p.g.append("path").datum({ type: "LineString", coordinates: [[91.5, 21.5], [84, 5.6]] })
    .attr("d", p.path).attr("fill", "none").attr("stroke", "#ddd");
  p.g.append("path").datum(multi([[[49.6, 52.5], [50.8, 55.5], [51.2, 55], [50.2, 52]]])).attr("d", p.path).attr("fill", colourA);
  p.g.append("path").datum(multi([[[48.6, 51.5], [49.5, 51.5], [49.5, 49.8], [48.6, 49.8]], [[86, 4], [87.5, 4], [88, -3], [87, -3.5], [87, 0]]])).attr("d", p.path).attr("fill", "#555");
  p.g.append("path").datum(multi([[[-32, 12], [-31.4, 12], [-31.4, 11.2], [-32, 11.2]], [[-29, 10], [-28.4, 10], [-28.4, 9.3], [-29, 9.3]]])).attr("d", p.path).attr("fill", colourB);
}

// ---- A ----
panelLetter("A", 33);
const pA = makePanel("A", [50, 42, 1637, 558], 680, 6.48, 358, 5.05);
classesA.forEach((names, i) => fillClass(pA, names, coloursA[i]));
legendBand(50, 1637, 558, 610);
drawLegend(legendA, coloursA,
  [62, 177, 317, 458, 599, 743, 885, 1049],
  [91, 206, 346, 486, 627, 774, 913, 1080],
  586, 24, 22, 12.5,
  [63, 75, 78, 83, 89, 80, 102, 194]);

// ---- B ----
panelLetter("B", 645);
const pB = makePanel("B", [40, 648, 1640, 1212], 373, 13.2, 996, 6);
const rScale = d3.scaleSqrt().domain([0, 549]).range([0, 178]);
pB.g.selectAll("ellipse.bubble").data(bubbleValues).enter().append("ellipse")
  .attr("class", "bubble")
  .attr("cx", (d, i) => pB.x(bubbleLon[i])).attr("cy", (d, i) => pB.y(bubbleLat[i]))
  .attr("rx", d => rScale(d)).attr("ry", d => rScale(d) * 0.455)
  .attr("fill", "rgb(140,125,188)").attr("fill-opacity", 0.72);
// texts go after all the bubbles so the big one does not veil its neighbour's label
bubbleValues.forEach((d, i) => {
  const cx = pB.x(bubbleLon[i]);
  const vy = pB.y(bubbleLat[i]) + bubbleValueDrop[i];
  pB.g.append("text").attr("transform", "translate(" + cx + "," + (vy + 7) + ") scale(1.85,1)")
    .attr("text-anchor", "middle").attr("font-size", 19).attr("font-weight", 700).attr("fill", "#fff")
    .text(d + "%");
  const lines = bubbleNames[i];
  lines.forEach((line, j) => {
    const ly = vy - 18 - (lines.length - 1 - j) * 15 + 5;
    pB.g.append("text").attr("transform", "translate(" + cx + "," + ly + ") scale(1.6,1)")
      .attr("text-anchor", "middle").attr("font-size", 14).attr("font-weight", 700).attr("fill", "#222")
      .text(line);
  });
});

// ---- C ----
panelLetter("C", 1248);
const pC = makePanel("C", [86, 1255, 1612, 1873], 715, 4.98, 1595, 3.95);
pC.g.append("path").datum(multi([antarcticEdge, antarcticPeninsula])).attr("d", pC.path).attr("fill", "#f3f3f3");
fillClass(pC, dataUnavailable, gapFill);
classesC.forEach((names, i) => fillClass(pC, names, coloursC[i]));
fillArea(pC, "MadagascarSouth", coloursC[2]);
fillArea(pC, "Patches", coloursC[7]);
insetBoxes(pC, coloursC[3], "#777");
countryLabels(pC);
legendBand(86, 1612, 1873, 1912);
drawLegend(legendC, coloursC.concat(["url(#hatch)", landFill, "circle"]),
  [97, 179, 279, 370, 463, 560, 665, 745, 1050, 1133, 1320],
  [118, 199, 300, 391, 484, 582, 687, 767, 1073, 1156, 1332],
  1894, 18, 16, 8.5,
  [49, 67, 57, 59, 59, 68, 46, 266, 37, 140, 280]);

// ---- D ----
panelLetter("D", 1930);
const pD = makePanel("D", [60, 1940, 1626, 2561], 702, 5.13, 2279, 4);
pD.g.append("path").datum(multi([antarcticEdge, antarcticPeninsula])).attr("d", pD.path).attr("fill", "#f3f3f3");
fillClass(pD, dataUnavailable, gapFill);
classesD.forEach((names, i) => fillClass(pD, names, coloursD[i]));
fillArea(pD, "MadagascarSouth", coloursD[3]);
fillArea(pD, "Patches", coloursD[2]);
insetBoxes(pD, coloursD[3], "#777");
countryLabels(pD);
legendBand(60, 1626, 2561, 2598);
drawLegend(legendD, coloursD.concat(["url(#hatch)", landFill, "circle"]),
  [70, 155, 258, 369, 483, 580, 892, 978, 1168],
  [93, 177, 280, 392, 506, 603, 916, 1001, 1181],
  2582, 18, 16, 8.5,
  [45, 62, 71, 74, 51, 273, 37, 143, 287]);
</script>
</body>
</html>
